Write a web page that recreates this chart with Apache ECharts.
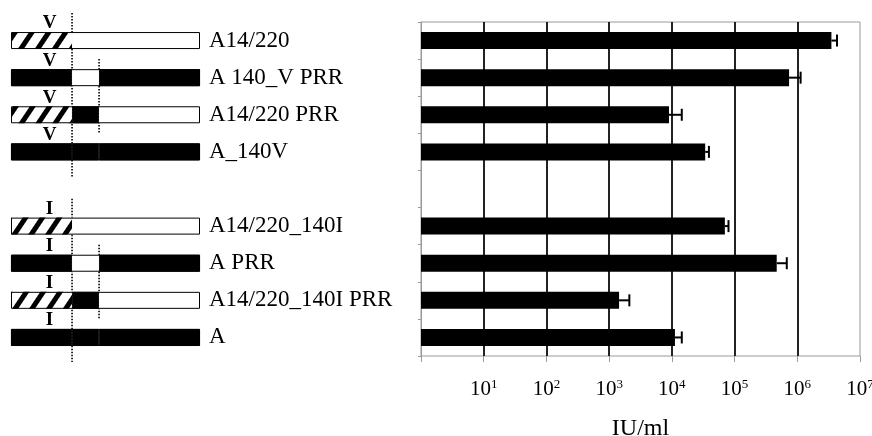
<!DOCTYPE html>
<html><head><meta charset="utf-8">
<script src="https://cdn.jsdelivr.net/npm/echarts@6/dist/echarts.min.js"></script>
<style>html,body{margin:0;padding:0;background:#fff}#c{width:872px;height:436px}</style>
</head><body><div id="c"></div>
<script>
// ---- data ----
const constructs = ['A14/220','A 140_V PRR','A14/220 PRR','A_140V','','A14/220_140I','A PRR','A14/220_140I PRR','A'];
const residue140 = ['V','V','V','V','','I','I','I','I'];
const titerIUml  = [3.5e6, 7.4e5, 9.0e3, 3.4e4, null, 7.0e4, 4.7e5, 1.44e3, 1.12e4];
const titerUpper = [4.3e6, 1.13e6, 1.44e4, 3.9e4, null, 8.0e4, 6.8e5, 2.1e3, 1.44e4];
// schematic: segment boundaries (relative length units)
const segmentBounds = [0, 32.3, 46.6, 100];
// segment type per construct: h = hatched (A14/220), k = black (A), w = white
const seg1Type = ['h','k','h','k',null,'h','k','h','k'];
const seg2Type = ['w','w','k','k',null,'w','w','k','k'];
const seg3Type = ['w','k','w','k',null,'w','k','w','k'];
// dotted guide lines: [boundary index, first row, last row]
const guideLines = [[1,0,3],[2,1,2],[1,5,8],[2,6,7]];
const xTickExponents = [0,1,2,3,4,5,6,7];

// ---- build ----
const FONT = 'Liberation Serif';
const BAR_W = 17;
const hatch = {symbol:'rect', symbolSize:1, dashArrayX:[1,0], dashArrayY:[5,9], rotation:-0.98, color:'#000'};
function segItem(type, len){
  if (!type) return '-';
  if (type === 'h') return {value:len, itemStyle:{color:'#fff', decal:hatch}};
  if (type === 'k') return {value:len, itemStyle:{color:'#000', borderColor:'#000', borderWidth:0.8}};
  return {value:len, itemStyle:{color:'#fff'}};
}
const segTypes = [seg1Type, seg2Type, seg3Type];
const segSeries = segTypes.map((types, s) => ({
  type:'bar', stack:'seg', xAxisIndex:0, yAxisIndex:0, barWidth:BAR_W, barGap:'-100%',
  silent:true, animation:false,
  data: types.map(t => segItem(t, segmentBounds[s+1]-segmentBounds[s])),
  label: s === 0 ? {
    show:true, position:'top', distance:2, offset:[8,3],
    formatter: p => residue140[p.dataIndex],
    fontFamily:FONT, fontWeight:'bold', fontSize:19, color:'#000'
  } : {show:false}
}));
const outlineSeries = {
  type:'bar', xAxisIndex:0, yAxisIndex:0, barWidth:BAR_W, barGap:'-100%', silent:true, animation:false,
  data: seg1Type.map(t => t ? segmentBounds[3] : '-'),
  itemStyle:{color:'rgba(0,0,0,0)', borderColor:'#000', borderWidth:1}
};
const guideSeries = {
  type:'custom', xAxisIndex:0, yAxisIndex:0, silent:true, animation:false, clip:false,
  data: guideLines.map(g => [segmentBounds[g[0]], g[1], g[2], g[0]]),
  encode:{x:0, y:[1,2]},
  renderItem(params, api){
    const x = api.value(0), r0 = api.value(1), r1 = api.value(2), b = api.value(3);
    const p0 = api.coord([x, r0]), p1 = api.coord([x, r1]);
    const band = api.size([0,1])[1];
    const e0 = b === 1 ? 0.74 : 0.5, e1 = b === 1 ? 0.66 : 0.52;
    return {type:'line', shape:{x1:p0[0], y1:p0[1]-e0*band, x2:p1[0], y2:p1[1]+e1*band},
      style:{stroke:'#000', lineWidth:1.6, lineDash:[1.5,1.5]}};
  }
};
const barSeries = {
  type:'bar', xAxisIndex:1, yAxisIndex:1, barWidth:BAR_W, animation:false,
  data: titerIUml.map(v => v == null ? '-' : v), itemStyle:{color:'#000'}
};
const errSeries = {
  type:'custom', xAxisIndex:1, yAxisIndex:1, animation:false, silent:true,
  data: titerIUml.map((v,i) => v == null ? null : [i, v, titerUpper[i]]).filter(d => d),
  encode:{y:0, x:[1,2]},
  renderItem(params, api){
    const i = api.value(0);
    const a = api.coord([api.value(1), i]), b = api.coord([api.value(2), i]);
    const st = {stroke:'#000', lineWidth:2};
    return {type:'group', children:[
      {type:'line', shape:{x1:a[0], y1:a[1], x2:b[0], y2:b[1]}, style:st},
      {type:'line', shape:{x1:b[0], y1:b[1]-6, x2:b[0], y2:b[1]+6}, style:st}
    ]};
  }
};

const chart = echarts.init(document.getElementById('c'), null, {renderer:'canvas'});
chart.setOption({
  backgroundColor:'#fff',
  animation:false,
  grid:[
    {left:11, width:189, top:22, bottom:80, containLabel:false, outerBoundsMode:'none'},
    {left:421, right:12, top:22, bottom:80, show:true, borderColor:'#999', borderWidth:1, containLabel:false, outerBoundsMode:'none'}
  ],
  xAxis:[
    {gridIndex:0, type:'value', min:segmentBounds[0], max:segmentBounds[3], show:false},
    {gridIndex:1, type:'log', logBase:10, min:Math.pow(10, xTickExponents[0]), max:Math.pow(10, xTickExponents[xTickExponents.length-1]),
     axisLine:{lineStyle:{color:'#999', width:1}},
     axisTick:{show:true, length:6, lineStyle:{color:'#999'}},
     splitLine:{show:true, showMinLine:false, showMaxLine:false, lineStyle:{color:'#222', width:2}},
     axisLabel:{margin:22, color:'#000', hideOverlap:false,
       formatter: v => { const e = Math.round(Math.log10(v)); return e === xTickExponents[0] ? '' : '{b|10}{s|' + e + '}'; },
       rich:{b:{fontFamily:FONT, fontSize:21, lineHeight:22, color:'#000', verticalAlign:'bottom'},
             s:{fontFamily:FONT, fontSize:13, lineHeight:13, color:'#000', verticalAlign:'top'}}},
     name:'IU/ml', nameLocation:'middle', nameGap:61,
     nameTextStyle:{fontFamily:FONT, fontSize:24, color:'#000'}}
  ],
  yAxis:[
    {gridIndex:0, type:'category', inverse:true, position:'right', data:constructs,
     axisLine:{show:false}, axisTick:{show:false}, splitLine:{show:false},
     axisLabel:{margin:9, fontFamily:FONT, fontSize:23, color:'#000'}},
    {gridIndex:1, type:'category', inverse:true, data:constructs,
     axisLine:{lineStyle:{color:'#999'}}, axisTick:{show:true, length:3, lineStyle:{color:'#999'}},
     axisLabel:{show:false}, splitLine:{show:false}}
  ],
  series:[...segSeries, outlineSeries, guideSeries, barSeries, errSeries]
});
</script></body></html>
